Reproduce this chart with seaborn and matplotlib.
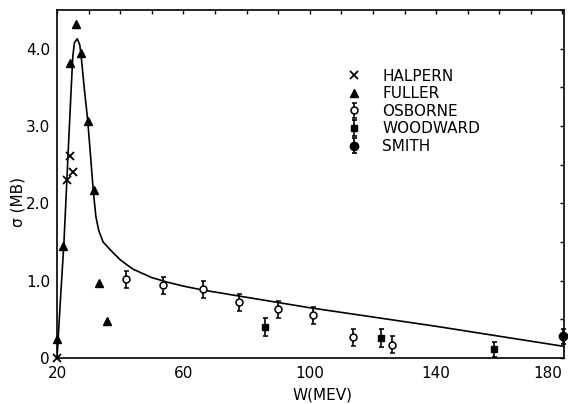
import numpy as np
import matplotlib
matplotlib.use('Agg')
import matplotlib.pyplot as plt
import seaborn as sns
from matplotlib.lines import Line2D
from matplotlib.ticker import MultipleLocator

# data
halpern_w = [20.0, 23.2, 24.1, 25.1]
halpern_s = [0.0, 2.30, 2.61, 2.40]

fuller_w = [20.0, 22.0, 24.1, 26.0, 27.6, 29.8, 31.7, 33.3, 35.8]
fuller_s = [0.25, 1.45, 3.82, 4.32, 3.95, 3.07, 2.17, 0.97, 0.48]

osborne_w = [41.8, 53.5, 66.2, 77.6, 89.9, 101.0, 113.7, 126.0]
osborne_s = [1.02, 0.94, 0.89, 0.72, 0.63, 0.55, 0.27, 0.17]
osborne_err = [0.11, 0.11, 0.11, 0.11, 0.11, 0.11, 0.11, 0.11]

woodward_w = [85.8, 122.5, 158.3]
woodward_s = [0.40, 0.26, 0.11]
woodward_err = [0.12, 0.12, 0.10]

smith_w = [180.3]
smith_s = [0.28]
smith_err = [0.10]

curve_w = [20, 21, 22.2, 23.0, 23.8, 24.5, 25.0, 25.5, 26.4, 27.2, 27.6, 28.6, 29.7,
           30.6, 31.5, 32.3, 33.2, 34.6, 37.3, 40, 44, 50, 55, 60, 66, 100, 140, 180.5]
curve_s = [0.0, 0.7, 1.5, 2.2, 2.9, 3.5, 3.9, 4.08, 4.13, 4.05, 3.92, 3.5, 3.08,
           2.62, 2.15, 1.83, 1.65, 1.5, 1.38, 1.27, 1.15, 1.04, 0.98, 0.93, 0.88, 0.65, 0.41, 0.15]

sns.set_style('white')
plt.rcParams['font.family'] = ['DejaVu Sans']
plt.rcParams['text.color'] = 'black'
plt.rcParams['axes.labelcolor'] = 'black'

fig = plt.figure(figsize=(5.68, 4.04), dpi=100)
ax = fig.add_axes([0.1004, 0.1139, 0.8926, 0.861])

sns.lineplot(x=curve_w, y=curve_s, sort=False, color='black', linewidth=1.2, ax=ax)

ax.plot(halpern_w, halpern_s, 'x', color='black', markersize=5.5, mew=1.3, clip_on=False, zorder=5)
ax.plot(fuller_w, fuller_s, '^', color='black', markersize=6, clip_on=False, zorder=5)

eb_kw = dict(color='black', elinewidth=1.2, capsize=1.8, capthick=1.2, linestyle='none', zorder=5)
osb = ax.errorbar(osborne_w, osborne_s, yerr=osborne_err, fmt='o', mfc='white', mec='black',
                  markersize=5, mew=1.1, **eb_kw)
wood = ax.errorbar(woodward_w, woodward_s, yerr=woodward_err, fmt='s', markersize=5, **eb_kw)
smi = ax.errorbar(smith_w, smith_s, yerr=smith_err, fmt='o', markersize=6, **eb_kw)
for cont in (osb, wood, smi):
    for art in cont.lines[0:1] + tuple(cont.lines[1]) + tuple(cont.lines[2]):
        art.set_clip_on(False)

ax.set_xlim(20, 180.5)
ax.set_ylim(0, 4.5)
ax.set_xticks([20, 60, 100, 140, 180])
ax.xaxis.set_minor_locator(MultipleLocator(10))
ax.set_yticks([0, 1, 2, 3, 4])
ax.set_yticklabels(['0', '1.0', '2.0', '3.0', '4.0'])
ax.yaxis.set_minor_locator(MultipleLocator(0.5))
ax.tick_params(which='both', direction='in', top=True, right=True, length=3, width=1,
               labelsize=11, colors='black')
ax.tick_params(axis='x', pad=6)
ax.tick_params(axis='y', pad=5)
ax.get_xticklabels()[-1].set_horizontalalignment('right')
for sp in ax.spines.values():
    sp.set_linewidth(1.2)
    sp.set_color('black')

ax.set_xlabel('W(MEV)', fontsize=11, va='center')
ax.set_ylabel('σ (MB)', fontsize=11, va='center')
ax.xaxis.set_label_coords(0.523, -0.106)
ax.yaxis.set_label_coords(-0.077, 0.448)

handles = [Line2D([], [], marker='x', ls='none', color='black', markersize=5.5, mew=1.3),
           Line2D([], [], marker='^', ls='none', color='black', markersize=6),
           osb, wood, smi]
labels = ['HALPERN', 'FULLER', 'OSBORNE', 'WOODWARD', 'SMITH']
ax.legend(handles, labels, loc='upper left', bbox_to_anchor=(0.571, 0.832), frameon=False,
          fontsize=11, handlelength=1.0, handletextpad=1.33, labelspacing=0.17,
          borderpad=0, borderaxespad=0)

fig.savefig('out.png', dpi=100)
